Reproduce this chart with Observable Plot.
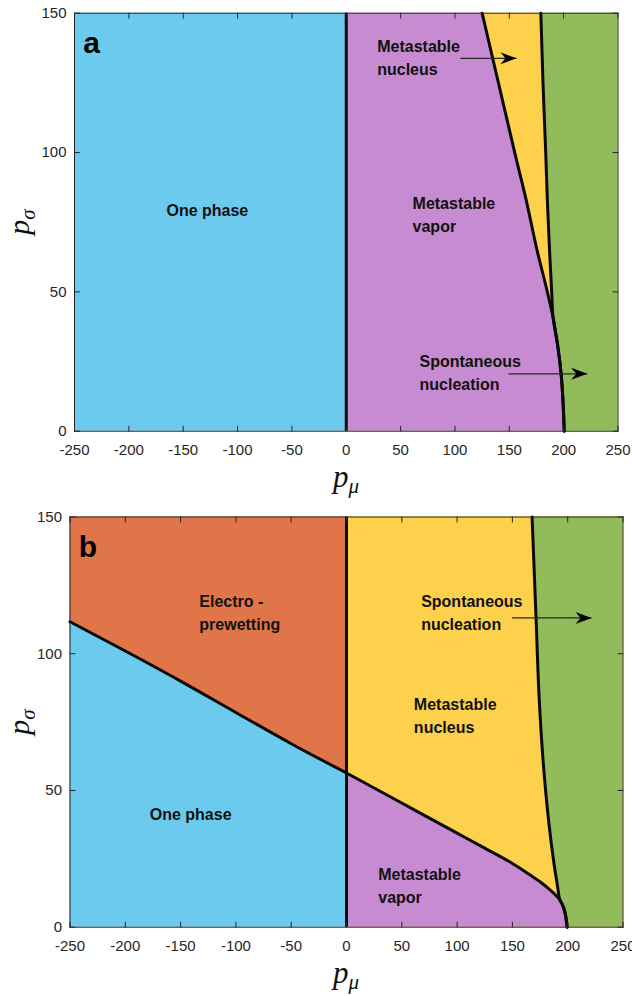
<!DOCTYPE html>
<html>
<head>
<meta charset="utf-8">
<script src="https://cdn.jsdelivr.net/npm/d3@7"></script>
<script src="https://cdn.jsdelivr.net/npm/@observablehq/plot@0.6"></script>
<style>
  html, body { margin: 0; padding: 0; background: #fff; overflow: hidden; }
  #chart { width: 632px; }
  #chart svg { display: block; overflow: visible; }
</style>
</head>
<body>
<div id="chart"></div>
<script>
// ---------- data ----------
const pMuDomain = [-250, 250];
const pSigmaDomain = [0, 150];
const xTicks = [-250, -200, -150, -100, -50, 0, 50, 100, 150, 200, 250];
const yTicks = [0, 50, 100, 150];
const coexistMu = 0;

// panel a boundaries (p_mu as a function of p_sigma)
const aSigma   = [0, 10, 20, 30, 41, 50, 65, 83, 100, 125, 150];
const aVaporMu = [200.5, 199.5, 197.8, 194.8, 190.2, 185, 175.5, 165.5, 155, 140, 125];   // metastable vapor | nucleus
const aSpontMu = [200.5, 199.5, 197.8, 194.8, 190.2, 189, 187, 185, 183.5, 181, 179];     // spontaneous nucleation

// panel b boundaries
const bPrewetMu    = [-250, -200, -150, -100, -50, 0];
const bPrewetSigma = [111.7, 101, 90, 78.5, 67.1, 56.4];
const bVaporMu     = [0, 25, 50, 75, 100, 125, 150, 165, 175, 183, 189, 193, 196, 198, 199.5];
const bVaporSigma  = [56.4, 50.9, 45.4, 39.9, 34.4, 28.9, 23.3, 19.4, 16.6, 14, 11.8, 9.9, 7.5, 4.5, 0];
const bSpontSigma  = [0, 4.5, 7.5, 9.9, 15, 20, 28, 38, 50, 65, 83, 114, 150];
const bSpontMu     = [199.5, 198, 196, 193, 190.8, 188.8, 186, 183, 180, 177, 174.3, 171.3, 167.8];

// labels
const labelsA = [
  {text: "One phase", x: -165.4, y: 80.0},
  {text: "Metastable\nvapor", x: 61, y: 78.2},
  {text: "Metastable\nnucleus", x: 28.5, y: 134.6},
  {text: "Spontaneous\nnucleation", x: 67.4, y: 21.4}
];
const labelsB = [
  {text: "Electro -\nprewetting", x: -133.1, y: 115.5},
  {text: "Spontaneous\nnucleation", x: 67.5, y: 115.5},
  {text: "Metastable\nnucleus", x: 60.9, y: 77.9},
  {text: "One phase", x: -177.9, y: 41.9},
  {text: "Metastable\nvapor", x: 28.7, y: 15.7}
];
const tagA = [{text: "a", x: -242, y: 139.2}];
const tagB = [{text: "b", x: -242, y: 138.9}];

const arrowsA = [
  {x1: 105.1, x2: 156.6, y: 133.8},
  {x1: 149.3, x2: 221.7, y: 20.6}
];
const arrowsB = [
  {x1: 149.8, x2: 221.5, y: 113.1}
];

// ---------- styles ----------
const C = {
  blue: "#6DCAEF", purple: "#C68BD1", yellow: "#FDD14C",
  green: "#92BB5B", orange: "#E0754A", line: "#0a0a0a", axis: "#262626"
};
const sans = "'Liberation Sans', Arial, Helvetica, sans-serif";
const serif = "'Liberation Serif', 'Times New Roman', serif";

const zip = (xs, ys, kx, ky) => xs.map((v, i) => ({[kx]: v, [ky]: ys[i]}));

const tickShape = {draw(ctx, l) { ctx.moveTo(0, 0); ctx.lineTo(0, -l); }};
const arrowHead = {draw(ctx) {
  ctx.moveTo(0, 0); ctx.lineTo(-16, -6); ctx.lineTo(-11, 0); ctx.lineTo(-16, 6); ctx.closePath();
}};

function tickMarks() {
  const common = {length: 5, anchor: "start", shape: tickShape, stroke: C.axis, strokeWidth: 1};
  return [
    Plot.vector(xTicks, {...common, x: d => d, y: () => pSigmaDomain[0], rotate: 0}),
    Plot.vector(xTicks, {...common, x: d => d, y: () => pSigmaDomain[1], rotate: 180}),
    Plot.vector(yTicks, {...common, y: d => d, x: () => pMuDomain[0], rotate: 90}),
    Plot.vector(yTicks, {...common, y: d => d, x: () => pMuDomain[1], rotate: 270})
  ];
}

function annotations(labels, tag, arrows) {
  return [
    Plot.text(labels, {x: "x", y: "y", text: "text", textAnchor: "start", lineAnchor: "middle",
      lineHeight: 1.44, fontSize: 16, fontWeight: "bold", fill: "#111", fontFamily: sans}),
    Plot.text(tag, {x: "x", y: "y", text: "text", textAnchor: "start", fontSize: 30,
      fontWeight: "bold", fill: "#000", fontFamily: sans}),
    Plot.link(arrows, {x1: "x1", x2: "x2", y1: "y", y2: "y", stroke: "#262626", strokeWidth: 1.3}),
    Plot.dot(arrows, {x: "x2", y: "y", symbol: arrowHead, fill: "#000", r: 5})
  ];
}

function baseOptions(h, m) {
  return {
    width: 632, height: h,
    marginTop: m.t, marginBottom: m.b, marginLeft: m.l, marginRight: m.r,
    style: {fontFamily: sans, fontSize: "15px", color: C.axis, background: "#fff", overflow: "visible"},
    x: {domain: pMuDomain, ticks: xTicks, tickSize: 0, tickPadding: 13.5, tickFormat: d => String(d), label: null},
    y: {domain: pSigmaDomain, ticks: yTicks, tickSize: 0, tickPadding: 8, tickFormat: d => String(d), label: null}
  };
}

// ---------- panel a ----------
const aData = aSigma.map((s, i) => ({s, v: aVaporMu[i], n: aSpontMu[i]}));
const cy = "monotone-y", cx = "monotone-x";
const plotA = Plot.plot({
  ...baseOptions(500, {t: 12.7, b: 69.3, l: 74, r: 14.5}),
  marks: [
    Plot.rect([0], {x1: () => pMuDomain[0], x2: () => coexistMu, y1: () => pSigmaDomain[0], y2: () => pSigmaDomain[1], fill: C.blue}),
    Plot.areaX(aData, {y: "s", x1: () => coexistMu, x2: "v", fill: C.purple, curve: cy}),
    Plot.areaX(aData, {y: "s", x1: "v", x2: "n", fill: C.yellow, curve: cy}),
    Plot.areaX(aData, {y: "s", x1: "n", x2: () => pMuDomain[1], fill: C.green, curve: cy}),
    Plot.ruleX([coexistMu], {y1: pSigmaDomain[0], y2: pSigmaDomain[1], stroke: C.line, strokeWidth: 3}),
    Plot.line(aData, {x: "v", y: "s", stroke: C.line, strokeWidth: 3, curve: cy}),
    Plot.line(aData, {x: "n", y: "s", stroke: C.line, strokeWidth: 3, curve: cy}),
    Plot.frame({stroke: C.axis, strokeWidth: 1}),
    ...tickMarks(),
    ...annotations(labelsA, tagA, arrowsA)
  ]
});

// ---------- panel b ----------
const bPrewet = zip(bPrewetMu, bPrewetSigma, "m", "s");
const bVapor = zip(bVaporMu, bVaporSigma, "m", "s");
const bSpont = zip(bSpontMu, bSpontSigma, "m", "s");
const plotB = Plot.plot({
  ...baseOptions(496, {t: 16.5, b: 69.3, l: 69.5, r: 9.5}),
  marks: [
    Plot.rect([0], {x1: () => coexistMu, x2: () => pMuDomain[1], y1: () => pSigmaDomain[0], y2: () => pSigmaDomain[1], fill: C.yellow}),
    Plot.areaY(bPrewet, {x: "m", y1: "s", y2: () => pSigmaDomain[1], fill: C.orange, curve: cx}),
    Plot.areaY(bPrewet, {x: "m", y1: () => pSigmaDomain[0], y2: "s", fill: C.blue, curve: cx}),
    Plot.areaY(bVapor, {x: "m", y1: () => pSigmaDomain[0], y2: "s", fill: C.purple, curve: cx}),
    Plot.areaX(bSpont, {y: "s", x1: "m", x2: () => pMuDomain[1], fill: C.green, curve: cy}),
    Plot.ruleX([coexistMu], {y1: pSigmaDomain[0], y2: pSigmaDomain[1], stroke: C.line, strokeWidth: 3}),
    Plot.line(bPrewet, {x: "m", y: "s", stroke: C.line, strokeWidth: 3, curve: cx}),
    Plot.line(bVapor, {x: "m", y: "s", stroke: C.line, strokeWidth: 3, curve: cx}),
    Plot.line(bSpont, {x: "m", y: "s", stroke: C.line, strokeWidth: 3, curve: cy}),
    Plot.frame({stroke: C.axis, strokeWidth: 1}),
    ...tickMarks(),
    ...annotations(labelsB, tagB, arrowsB)
  ]
});

// ---------- axis titles (italic math with subscripts) ----------
function axisTitles(svg, xTitle, yTitle) {
  const s = d3.select(svg);
  const tx = s.append("text")
    .attr("x", xTitle.x).attr("y", xTitle.y)
    .attr("text-anchor", "middle").attr("font-family", serif)
    .attr("font-style", "italic").attr("font-size", 31).attr("fill", "#111");
  tx.append("tspan").text("p");
  tx.append("tspan").attr("font-size", 21).attr("dy", 6).text("μ");

  const ty = s.append("text")
    .attr("transform", `translate(${yTitle.x},${yTitle.y}) rotate(-90)`)
    .attr("text-anchor", "middle").attr("font-family", serif)
    .attr("font-style", "italic").attr("font-size", 30).attr("fill", "#111");
  ty.append("tspan").text("p");
  ty.append("tspan").attr("font-size", 21).attr("dy", 6).text("σ");
}
axisTitles(plotA, {x: 346, y: 487}, {x: 29, y: 222});
axisTitles(plotB, {x: 346, y: 483}, {x: 29, y: 222});

document.getElementById("chart").append(plotA, plotB);
</script>
</body>
</html>
